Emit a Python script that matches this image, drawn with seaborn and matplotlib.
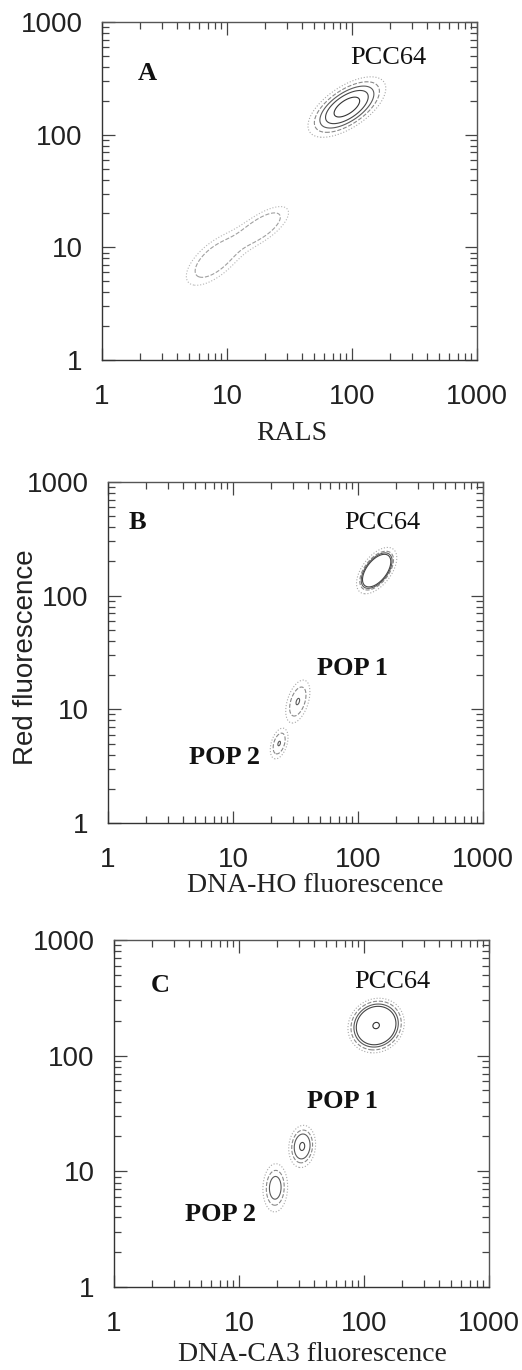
import numpy as np
import pandas as pd
import matplotlib
matplotlib.use("Agg")
import matplotlib.pyplot as plt
import seaborn as sns
from matplotlib.ticker import LogLocator, NullFormatter, FixedLocator, FixedFormatter

sns.set_style("ticks")
plt.rcParams["font.family"] = ["Liberation Sans", "DejaVu Sans"]

# ======================
# DATA
# ======================
tick_values = [1, 10, 100, 1000]
tick_labels = ["1", "10", "100", "1000"]

panel_ids = ["A", "B", "C"]
x_titles = ["RALS", "DNA-HO fluorescence", "DNA-CA3 fluorescence"]
y_titles = ["", "Red fluorescence", ""]

# populations: centre in channel units, spread in decades
pop_panel = ["A", "A", "A", "B", "B", "B", "C", "C", "C"]
pop_group = ["PCC64", "debris", "debris", "PCC64", "POP 1", "POP 2", "PCC64", "POP 1", "POP 2"]
pop_x = [91, 8.0, 19.0, 141, 33, 23.4, 125, 32, 19.5]
pop_y = [176, 7.8, 15.1, 166, 11.7, 5.0, 182, 16.4, 7.2]
pop_sx = [0.145, 0.15, 0.14, 0.075, 0.045, 0.033, 0.105, 0.05, 0.046]
pop_sy = [0.125, 0.15, 0.12, 0.095, 0.088, 0.063, 0.11, 0.085, 0.097]
pop_rho = [0.62, 0.65, 0.7, 0.55, 0.45, 0.4, 0.1, 0.1, 0.05]

# contour levels, fraction of each population's peak
contour_levels = {
    ("A", "PCC64"): [0.1, 0.2, 0.33, 0.5, 0.78],
    ("A", "debris"): [0.3, 0.55],
    ("B", "PCC64"): [0.1, 0.2, 0.26, 0.32],
    ("B", "POP 1"): [0.1, 0.35, 0.95],
    ("B", "POP 2"): [0.1, 0.35, 0.95],
    ("C", "PCC64"): [0.1, 0.16, 0.24, 0.32, 0.97],
    ("C", "POP 1"): [0.1, 0.25, 0.45, 0.92],
    ("C", "POP 2"): [0.1, 0.3, 0.6],
}

# text inside the panels
ann_panel = ["A", "A", "B", "B", "B", "B", "C", "C", "C", "C"]
ann_text = ["A", "PCC64", "B", "PCC64", "POP 1", "POP 2", "C", "PCC64", "POP 1", "POP 2"]
ann_x = [2.29, 194, 1.71, 155, 91, 8.6, 2.33, 167, 67, 7.05]
ann_y = [350, 478, 444, 437, 23, 3.8, 407, 433, 40, 4.2]
ann_bold = [True, False, True, False, True, True, True, False, True, True]

pops = pd.DataFrame({"panel": pop_panel, "group": pop_group, "x": pop_x, "y": pop_y,
                     "sx": pop_sx, "sy": pop_sy, "rho": pop_rho})
anns = pd.DataFrame({"panel": ann_panel, "text": ann_text, "x": ann_x, "y": ann_y,
                     "bold": ann_bold})

# ======================
# PLOTTING
# ======================
fig = plt.figure(figsize=(5.22, 13.70), dpi=100)
positions = {
    "A": [0.1954, 0.7372, 0.7184, 0.2467],
    "B": [0.2069, 0.3993, 0.7184, 0.2489],
    "C": [0.2184, 0.0606, 0.7184, 0.2533],
}
xlabel_pos = {"A": (0.507, -0.18), "B": (0.552, -0.147), "C": (0.528, -0.158)}

gx, gy = np.meshgrid(np.linspace(0, 3, 700), np.linspace(0, 3, 700))
line_colors = ["#a8a8a8", "#8a8a8a", "#5a5a5a", "#444444", "#333333"]
line_styles = [":", "--", "-", "-", "-"]

for pid, xt, yt in zip(panel_ids, x_titles, y_titles):
    ax = fig.add_axes(positions[pid])

    for grp, rows in pops[pops.panel == pid].groupby("group", sort=False):
        z = np.zeros_like(gx)
        for _, r in rows.iterrows():
            dx = (gx - np.log10(r.x)) / r.sx
            dy = (gy - np.log10(r.y)) / r.sy
            q = (dx**2 - 2 * r.rho * dx * dy + dy**2) / (1 - r.rho**2)
            z += np.exp(-0.5 * q)
        z /= z.max()
        lv = contour_levels[(pid, grp)]
        cols = line_colors[:len(lv)]
        if grp == "debris":
            cols = ["#b5b5b5", "#a0a0a0"]
        ax.contour(10**gx, 10**gy, z, levels=lv,
                   colors=cols, linestyles=line_styles[:len(lv)],
                   linewidths=0.8)

    for _, a in anns[anns.panel == pid].iterrows():
        ax.text(a.x, a.y, a.text, ha="center", va="center", fontsize=19,
                family=["Liberation Serif", "DejaVu Serif"],
                fontweight="bold" if a.bold else "normal", color="#111111")

    ax.set_xscale("log")
    ax.set_yscale("log")
    ax.set_xlim(1, 1000)
    ax.set_ylim(1, 1000)
    for axis in (ax.xaxis, ax.yaxis):
        axis.set_major_locator(FixedLocator(tick_values))
        axis.set_major_formatter(FixedFormatter(tick_labels))
        axis.set_minor_locator(LogLocator(base=10, subs=np.arange(2, 10)))
        axis.set_minor_formatter(NullFormatter())
    ax.tick_params(which="both", direction="in", top=True, right=True,
                   color="#444444", width=0.9)
    ax.tick_params(which="major", length=9, labelsize=20, labelcolor="#222222")
    ax.tick_params(axis="x", which="major", pad=17)
    ax.tick_params(axis="y", which="major", pad=14)
    ax.tick_params(which="minor", length=5)
    for s in ax.spines.values():
        s.set_color("#555555")
        s.set_linewidth(1.0)
    ax.spines["left"].set_color("#333333")
    ax.spines["bottom"].set_color("#333333")

    ax.set_xlabel(xt, fontsize=20, family=["Liberation Serif", "DejaVu Serif"],
                  color="#222222")
    ax.xaxis.set_label_coords(*xlabel_pos[pid])
    if yt:
        ax.set_ylabel(yt, fontsize=20, color="#222222")
        ax.yaxis.set_label_coords(-0.185, 0.487)

# ======================
# SAVE
# ======================
plt.savefig("out.png", dpi=100)
plt.close()
